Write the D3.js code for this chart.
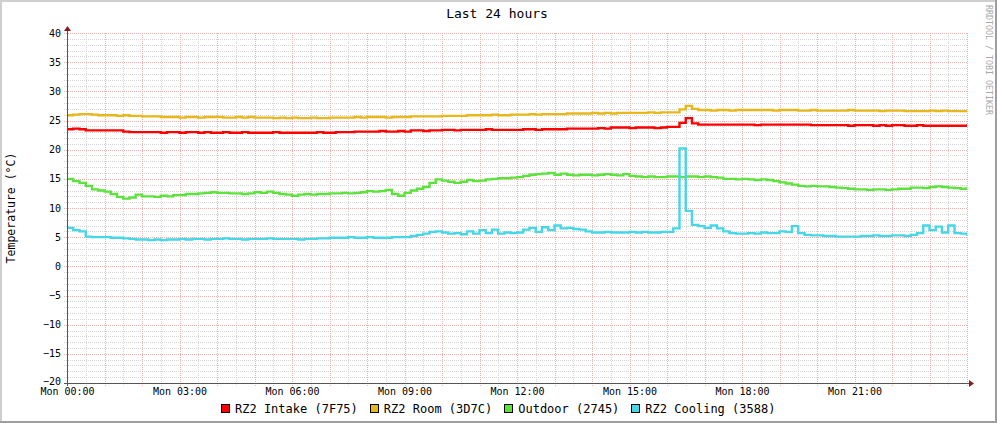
<!DOCTYPE html>
<html><head><meta charset="utf-8">
<script src="https://cdn.jsdelivr.net/npm/d3@7/dist/d3.min.js"></script>
<style>
body{margin:0;background:#fff;}
text{font-family:"DejaVu Sans Mono",monospace;}
</style>
</head><body>
<svg id="chart" width="997" height="423"></svg>
<script>
// ---------- data ----------
const chartTitle = "Last 24 hours";
const yAxisTitle = "Temperature (°C)";
const watermark = "RRDTOOL / TOBI OETIKER";
const seriesNames = ["RZ2 Intake (7F75)", "RZ2 Room (3D7C)", "Outdoor (2745)", "RZ2 Cooling (3588)"];
const seriesColors = ["#FF0000", "#E8B71B", "#5DE23D", "#46D7E7"];
const yTicks = [-20, -15, -10, -5, 0, 5, 10, 15, 20, 25, 30, 35, 40];
const xTickLabels = ["Mon 00:00", "Mon 03:00", "Mon 06:00", "Mon 09:00", "Mon 12:00", "Mon 15:00", "Mon 18:00", "Mon 21:00"];
const startTime = new Date(2024, 0, 1, 0, 0);   // a Monday
const stepMinutes = 10;                          // one sample every 10 minutes

const intake = [
 23.5,23.6,23.5,
 23.3,23.3,23.3,23.3,23.3,23.3,
 23.1,23.0,23.0,23.0,23.0,23.0,22.9,23.0,23.0,22.9,23.0,23.0,
 22.9,23.0,22.9,22.9,23.0,22.9,22.9,23.0,22.9,22.9,
 22.9,22.9,23.0,22.9,22.9,22.9,22.9,22.9,22.9,23.0,
 22.9,22.9,23.0,23.0,23.0,
 23.1,23.1,23.1,23.1,23.2,23.1,23.1,23.2,23.1,
 23.3,23.3,23.2,23.3,23.3,
 23.4,23.4,23.3,23.4,23.4,23.4,23.4,23.5,23.4,23.4,
 23.4,23.4,23.4,23.5,23.5,23.4,23.5,23.5,23.5,23.5,
 23.6,23.6,23.6,23.6,23.6,23.7,23.6,
 23.8,23.8,23.8,23.7,23.8,23.8,23.8,23.7,23.8,
 23.9,23.9,
 24.6,25.4,24.5,
 24.3,24.3,24.3,24.3,24.3,24.3,24.3,24.3,24.3,24.2,
 24.3,24.3,24.3,24.3,24.3,24.3,24.3,24.3,24.2,24.2,
 24.2,24.2,24.2,24.2,24.1,24.2,24.2,24.2,24.1,24.2,
 24.1,24.2,24.2,24.1,24.1,24.2,24.1,24.1,24.1,24.1,
 24.1,24.1,24.1,24.1
];
const room = [
 25.9,26.0,
 26.1,26.1,26.0,
 25.9,25.9,25.9,25.8,25.9,25.8,25.8,
 25.7,25.7,25.7,
 25.6,25.6,25.6,25.5,25.6,25.6,25.5,25.6,25.6,25.6,
 25.5,25.5,25.6,25.5,25.6,25.5,25.5,25.5,25.4,25.5,
 25.4,25.5,25.4,25.4,25.5,25.4,25.4,25.5,25.5,25.5,25.5,
 25.6,25.5,25.6,25.6,25.6,25.5,25.6,25.6,25.6,
 25.7,25.7,25.7,25.7,25.7,
 25.8,25.8,25.8,25.8,25.9,
 25.9,25.9,25.9,26.0,25.9,25.9,26.0,
 26.0,26.0,26.1,26.0,26.1,26.1,26.1,26.1,
 26.2,26.2,26.2,26.2,26.3,26.2,26.3,26.2,26.3,26.3,
 26.3,26.3,26.3,26.4,26.3,
 26.4,26.4,26.4,
 26.9,27.5,27.0,
 26.8,26.8,26.7,26.8,26.8,26.7,26.8,26.8,26.8,26.8,
 26.8,26.8,26.7,26.8,26.8,26.8,26.7,26.7,26.8,26.7,
 26.7,26.7,26.7,26.7,26.8,26.7,26.7,26.7,26.7,26.6,
 26.7,26.7,26.7,26.6,26.6,26.6,26.6,26.7,26.6,26.7,
 26.6,26.6,26.6,26.6
];
const outdoor = [
 15.0,14.6,14.3,13.8,13.2,13.0,12.8,12.4,11.9,11.6,
 11.8,12.3,12.0,12.0,11.9,12.1,12.0,12.2,12.2,12.4,
 12.4,12.5,12.6,12.7,12.6,12.6,12.5,12.5,12.4,12.5,
 12.7,12.6,12.8,12.6,12.4,12.3,12.1,12.3,12.4,12.3,
 12.4,12.4,12.5,12.5,12.6,12.5,12.6,12.7,12.9,12.8,
 12.9,13.1,12.4,12.1,12.6,13.0,13.3,13.6,14.3,14.9,
 14.7,14.5,14.3,14.5,14.8,14.6,14.7,14.9,15.0,15.1,
 15.1,15.2,15.3,15.5,15.7,15.8,15.9,16.0,15.7,15.9,
 15.7,15.6,15.7,15.7,15.6,15.7,15.8,15.7,15.6,15.8,
 15.5,15.4,15.3,15.4,15.3,15.3,15.4,15.4,15.3,15.4,
 15.4,15.3,15.4,15.3,15.2,15.0,15.0,14.9,15.0,14.9,
 14.8,14.9,14.8,14.6,14.4,14.2,14.0,13.8,13.7,13.8,
 13.7,13.7,13.6,13.5,13.4,13.3,13.2,13.2,13.1,13.2,
 13.2,13.1,13.2,13.3,13.3,13.5,13.5,13.4,13.6,13.7,
 13.6,13.5,13.4,13.3,13.3
];
const cooling = [
 6.6,6.2,6.0,
 5.1,5.0,5.0,5.0,4.9,4.9,
 4.8,4.7,4.6,4.6,4.5,4.6,4.5,4.6,4.6,4.7,4.6,4.7,
 4.7,4.6,4.7,4.7,4.8,4.7,4.7,4.6,4.7,4.7,4.7,4.8,4.7,4.7,
 4.7,4.7,4.6,4.7,4.7,4.8,4.8,
 4.9,4.9,4.9,5.0,4.9,4.9,5.0,4.9,4.9,4.9,5.0,5.0,5.0,
 5.2,5.4,5.6,5.9,6.0,5.8,5.6,5.7,5.5,6.0,
 5.6,6.2,5.7,6.3,5.6,5.8,5.7,5.8,6.3,6.6,
 5.9,6.7,6.2,7.0,6.5,6.6,6.4,6.3,6.0,
 5.8,5.8,5.9,5.8,5.8,5.8,5.9,5.8,5.9,5.8,5.8,5.9,5.9,6.5,
 20.2,9.5,7.1,
 6.9,6.6,7.0,6.5,6.0,5.7,5.6,5.6,5.7,5.6,
 5.8,5.7,5.7,6.0,5.9,6.9,5.7,5.4,5.3,5.3,
 5.2,5.2,5.1,5.1,5.1,5.1,5.2,5.2,5.3,5.2,
 5.2,5.3,5.3,5.2,5.4,5.7,7.0,6.2,6.8,5.8,
 7.0,5.7,5.6,5.4
];
const seriesValues = [intake, room, outdoor, cooling];

// ---------- layout ----------
const W = 997, H = 423;
const plot = {left: 67, right: 967, top: 33, bottom: 383};
const endTime = d3.timeHour.offset(startTime, 24);
const times = intake.map((_, i) => d3.timeMinute.offset(startTime, i * stepMinutes));

const x = d3.scaleTime().domain([startTime, endTime]).range([plot.left, plot.right]);
const y = d3.scaleLinear().domain([-20, 40]).range([plot.bottom, plot.top]);

const svg = d3.select("#chart");

// background and 3D frame
svg.append("rect").attr("width", W).attr("height", H).attr("fill", "#ffffff");
svg.append("rect").attr("x", 0).attr("y", 0).attr("width", W).attr("height", 2).attr("fill", "#cfcfcf");
svg.append("rect").attr("x", 0).attr("y", 0).attr("width", 2).attr("height", H).attr("fill", "#cfcfcf");
svg.append("rect").attr("x", 0).attr("y", H - 2).attr("width", W).attr("height", 2).attr("fill", "#9e9e9e");
svg.append("rect").attr("x", W - 2).attr("y", 0).attr("width", 2).attr("height", H).attr("fill", "#9e9e9e");

// grid
const minorX = d3.timeMinute.every(30).range(startTime, d3.timeMinute.offset(endTime, 1)).filter(d => d.getMinutes() === 30);
const majorX = d3.timeHour.range(d3.timeHour.offset(startTime, 1), d3.timeMinute.offset(endTime, 1));
const minorY = d3.range(-19, 40, 1).filter(v => v % 5 !== 0);
const majorY = yTicks.filter(v => v > -20);
const minorColor = "#d6d6d6", majorColor = "#efb0b0";

const grid = svg.append("g").attr("shape-rendering", "crispEdges");
grid.selectAll(".gxm").data(minorX).join("line")
  .attr("x1", d => Math.round(x(d)) + 0.5).attr("x2", d => Math.round(x(d)) + 0.5)
  .attr("y1", plot.top).attr("y2", plot.bottom + 3)
  .attr("stroke", minorColor).attr("stroke-dasharray", "1,1");
grid.selectAll(".gym").data(minorY).join("line")
  .attr("x1", plot.left - 3).attr("x2", plot.right)
  .attr("y1", d => Math.round(y(d)) + 0.5).attr("y2", d => Math.round(y(d)) + 0.5)
  .attr("stroke", minorColor).attr("stroke-dasharray", "1,1");
grid.selectAll(".gxM").data(majorX).join("line")
  .attr("x1", d => Math.round(x(d)) + 0.5).attr("x2", d => Math.round(x(d)) + 0.5)
  .attr("y1", plot.top).attr("y2", plot.bottom + 3)
  .attr("stroke", majorColor).attr("stroke-dasharray", "1,1");
grid.selectAll(".gyM").data(majorY).join("line")
  .attr("x1", plot.left - 3).attr("x2", plot.right)
  .attr("y1", d => Math.round(y(d)) + 0.5).attr("y2", d => Math.round(y(d)) + 0.5)
  .attr("stroke", majorColor).attr("stroke-dasharray", "1,1");

// axes labels via d3 axes
const yAxis = d3.axisLeft(y).tickValues(yTicks).tickSize(0).tickPadding(0).tickFormat(d3.format("d"));
const gy = svg.append("g").attr("transform", `translate(${plot.left - 6},0)`).call(yAxis);
gy.select(".domain").remove();
gy.selectAll("text").attr("font-size", 10).attr("fill", "#000").attr("font-family", "DejaVu Sans Mono").attr("dy", "0.3em");
gy.selectAll(".tick").filter(d => d === -20).select("text").attr("dy", "0.12em");

const xTickTimes = xTickLabels.map((_, i) => d3.timeHour.offset(startTime, i * 3));
const xAxis = d3.axisBottom(x).tickValues(xTickTimes).tickSize(0).tickPadding(0)
  .tickFormat((d, i) => xTickLabels[i]);
const gx = svg.append("g").attr("transform", `translate(0,${plot.bottom + 5})`).call(xAxis);
gx.select(".domain").remove();
gx.selectAll("text").attr("font-size", 10).attr("fill", "#000").attr("font-family", "DejaVu Sans Mono").attr("dy", "0.71em");

// data lines
svg.append("clipPath").attr("id", "clip").append("rect")
  .attr("x", plot.left).attr("y", plot.top).attr("width", plot.right - plot.left).attr("height", plot.bottom - plot.top);
const line = d3.line().x((d, i) => x(times[i])).y(d => y(d)).curve(d3.curveStepAfter);
const lines = svg.append("g").attr("clip-path", "url(#clip)");
lines.selectAll("path").data(seriesValues).join("path")
  .attr("d", d => line(d))
  .attr("fill", "none").attr("stroke", (d, i) => seriesColors[i]).attr("stroke-width", 2.4)
  .attr("stroke-linejoin", "miter");
// extend the last sample to the end of the plot
lines.selectAll("line").data(seriesValues).join("line")
  .attr("x1", d => x(times[d.length - 1]) - 1).attr("x2", plot.right)
  .attr("y1", d => y(d[d.length - 1])).attr("y2", d => y(d[d.length - 1]))
  .attr("stroke", (d, i) => seriesColors[i]).attr("stroke-width", 2.4);

// axis lines with arrows
const ax = svg.append("g").attr("shape-rendering", "crispEdges");
ax.append("line").attr("x1", plot.left - 3).attr("x2", plot.right + 2).attr("y1", plot.bottom + 0.5).attr("y2", plot.bottom + 0.5).attr("stroke", "#555");
ax.append("line").attr("x1", plot.left + 0.5).attr("x2", plot.left + 0.5).attr("y1", plot.bottom + 3).attr("y2", plot.top - 2).attr("stroke", "#555");
svg.append("path").attr("d", `M${plot.right + 2},${plot.bottom - 3} L${plot.right + 7},${plot.bottom + 0.5} L${plot.right + 2},${plot.bottom + 4} Z`).attr("fill", "#8b1a1a");
svg.append("path").attr("d", `M${plot.left - 3},${plot.top - 2} L${plot.left + 0.5},${plot.top - 7} L${plot.left + 4},${plot.top - 2} Z`).attr("fill", "#8b1a1a");

// title, y-axis title, watermark
svg.append("text").attr("x", 497).attr("y", 18).attr("text-anchor", "middle").attr("font-size", 13).text(chartTitle);
svg.append("text").attr("transform", `translate(15,${(plot.top + plot.bottom) / 2}) rotate(-90)`)
  .attr("text-anchor", "middle").attr("font-size", 11.5).text(yAxisTitle);
svg.append("text").attr("transform", "translate(986,5) rotate(90)").attr("text-anchor", "start")
  .attr("font-size", 8.3).attr("fill", "#a8a8a8").text(watermark);

// legend
const leg = svg.append("g");
let cx = 0;
seriesNames.forEach((name, i) => {
  const g = leg.append("g");
  g.append("rect").attr("x", 0.5).attr("y", 0.5).attr("width", 8).attr("height", 8)
    .attr("fill", seriesColors[i]).attr("stroke", "#000").attr("stroke-width", 1).attr("shape-rendering", "crispEdges");
  const t = g.append("text").attr("x", 14).attr("y", 8.5).attr("font-size", 12).text(name);
  const w = 14 + t.node().getComputedTextLength();
  g.attr("transform", `translate(${cx},0)`);
  cx += w + 12;
});
const totalW = cx - 12;
leg.attr("transform", `translate(${Math.round(498 - totalW / 2)},404)`);
</script>
</body></html>
